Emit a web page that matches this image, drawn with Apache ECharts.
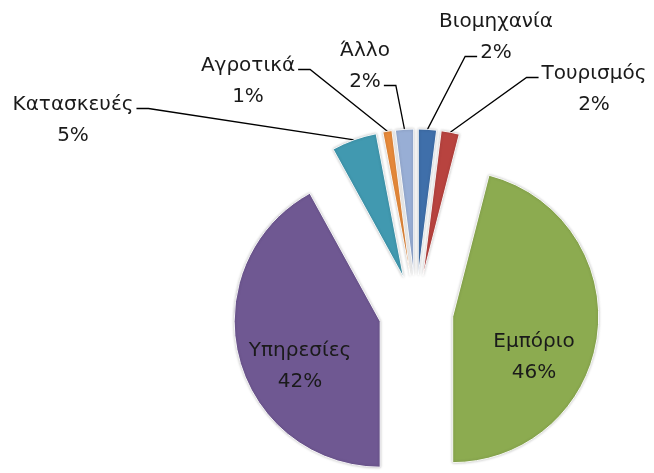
<!DOCTYPE html>
<html lang="el">
<head>
    <meta charset="UTF-8">
    <title>Κατανομή ανά κλάδο</title>
    <script src="https://cdn.jsdelivr.net/npm/echarts/dist/echarts.min.js"></script>
    <style>
        html, body { margin: 0; padding: 0; background: #fff; }
        #chart { width: 654px; height: 473px; }
    </style>
</head>
<body>
    <div id="chart"></div>
    <script>
        // Δεδομένα (ποσοστά ανά κλάδο, δεξιόστροφα από τη θέση 12 ωρών)
        var sectors = ['Βιομηχανία', 'Τουρισμός', 'Εμπόριο', 'Υπηρεσίες', 'Κατασκευές', 'Αγροτικά', 'Άλλο'];
        var shares = [2, 2, 46, 42, 5, 1, 2];

        var colors = ['#3f6faa', '#b8433f', '#8cab50', '#6f5892', '#4199b0', '#e6893a', '#98aed5'];
        // κέντρο κάθε ετικέτας (εικονοστοιχεία)
        var labelPos = [[496, 37], [594, 89], [534, 357], [300, 366], [73, 120], [248, 81], [365, 66]];
        // σε ποια γραμμή της ετικέτας δένει η γραμμή οδηγός (0 = όνομα, 1 = ποσοστό)
        var guideRow = [1, 0, 0, 0, 0, 0, 1];
        var insideLabel = [false, false, true, true, false, false, false];

        var center = [416, 312];
        var radius = 146;
        var explode = 37;
        var fontSize = 20;
        var lineH = 31;
        var font = fontSize + 'px "DejaVu Sans"';

        var ctx = document.createElement('canvas').getContext('2d');
        ctx.font = font;
        function textWidth(s) { return ctx.measureText(s).width; }

        var myChart = echarts.init(document.getElementById('chart'));

        var option = {
            animation: false,
            color: colors,
            series: [
                {
                    // οι φέτες, όλες αποσπασμένες από το κέντρο
                    type: 'pie',
                    center: center,
                    radius: radius,
                    startAngle: 90,
                    selectedMode: 'multiple',
                    selectedOffset: explode,
                    emphasis: { disabled: true },
                    itemStyle: {
                        borderColor: 'rgba(255,255,255,0.9)',
                        borderWidth: 1,
                        shadowBlur: 3,
                        shadowColor: 'rgba(0,0,0,0.25)'
                    },
                    label: { show: false },
                    labelLine: { show: false },
                    data: sectors.map(function (name, i) {
                        return { name: name, value: shares[i], selected: true };
                    })
                },
                {
                    // διαφανής πίτα μόνο για τις ετικέτες, η ακτίνα της φτάνει ως το τόξο των αποσπασμένων φετών
                    type: 'pie',
                    left: 0,
                    top: 0,
                    width: 1400,
                    height: 473,
                    center: center,
                    radius: radius + explode,
                    startAngle: 90,
                    silent: true,
                    avoidLabelOverlap: false,
                    percentPrecision: 0,
                    itemStyle: { color: 'rgba(0,0,0,0)' },
                    label: {
                        formatter: '{b}\n{d}%',
                        fontFamily: 'DejaVu Sans',
                        fontSize: fontSize,
                        lineHeight: lineH,
                        color: '#1a1a1a'
                    },
                    labelLine: {
                        show: true,
                        lineStyle: { color: '#000', width: 1.3 }
                    },
                    labelLayout: function (params) {
                        var i = params.dataIndex;
                        var p = labelPos[i];
                        var res = { x: p[0], y: p[1], align: 'center', verticalAlign: 'middle' };
                        var pts = params.labelLinePoints;
                        if (!insideLabel[i] && pts) {
                            var start = pts[0];
                            var row = guideRow[i];
                            var rowText = row === 0 ? sectors[i] : shares[i] + '%';
                            var half = textWidth(rowText) / 2 + 3;
                            var y = p[1] + (row === 0 ? -lineH / 2 : lineH / 2) + 4;
                            var toRight = start[0] > p[0];
                            var endX = toRight ? p[0] + half : p[0] - half;
                            var bendX = toRight ? endX + 12 : endX - 12;
                            res.labelLinePoints = [[start[0], start[1]], [bendX, y], [endX, y]];
                        }
                        return res;
                    },
                    data: sectors.map(function (name, i) {
                        return {
                            name: name,
                            value: shares[i],
                            label: { position: insideLabel[i] ? 'inside' : 'outside' },
                            labelLine: { show: !insideLabel[i] }
                        };
                    })
                }
            ]
        };

        myChart.setOption(option);
    </script>
</body>
</html>
